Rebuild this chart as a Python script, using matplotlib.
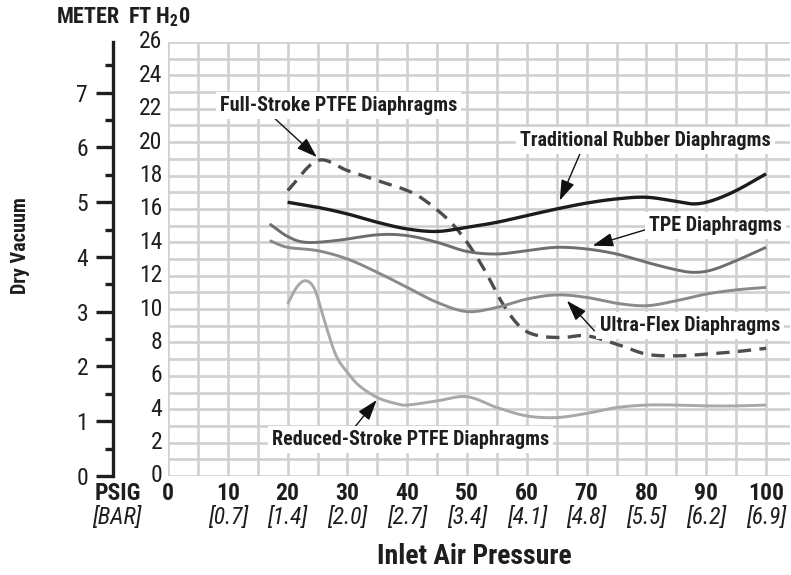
import numpy as np
import matplotlib
matplotlib.use("Agg")
import matplotlib.pyplot as plt
from matplotlib.ticker import MultipleLocator
from matplotlib.transforms import blended_transform_factory

FONT = ["Roboto Condensed", "Archivo Narrow", "PT Sans Narrow", "Liberation Sans", "DejaVu Sans"]
plt.rcParams["font.family"] = FONT

# Inlet air pressure (PSIG) and dry vacuum (ft H2O) for each diaphragm type
rubber_psig = [20, 25, 30, 35, 40, 45, 50, 55, 60, 65, 70, 75, 80, 85, 88, 91, 95, 100]
rubber_ft = [16.4, 16.1, 15.7, 15.2, 14.8, 14.65, 14.9, 15.2, 15.6, 16.0, 16.35, 16.6, 16.7, 16.45, 16.3, 16.5, 17.1, 18.1]

tpe_psig = [17, 20, 23, 28, 35, 40, 45, 50, 55, 60, 65, 70, 75, 80, 85, 88, 91, 95, 100]
tpe_ft = [15.1, 14.35, 14.0, 14.1, 14.45, 14.4, 14.0, 13.45, 13.3, 13.5, 13.7, 13.6, 13.3, 12.8, 12.35, 12.2, 12.35, 12.9, 13.7]

ultra_psig = [17, 20, 25, 30, 35, 40, 45, 50, 55, 60, 65, 70, 75, 80, 85, 90, 95, 100]
ultra_ft = [14.1, 13.7, 13.5, 13.0, 12.2, 11.3, 10.4, 9.85, 10.1, 10.6, 10.85, 10.7, 10.35, 10.2, 10.5, 10.9, 11.15, 11.3]

full_psig = [20, 25, 30, 35, 40, 43, 47, 50, 53, 56, 59, 62, 66, 70, 75, 80, 85, 90, 95, 100]
full_ft = [17.1, 18.9, 18.3, 17.7, 17.1, 16.5, 15.3, 14.0, 12.3, 10.3, 8.9, 8.4, 8.3, 8.4, 7.9, 7.3, 7.2, 7.3, 7.45, 7.65]

reduced_psig = [20, 21.5, 23, 24.5, 26, 28, 30, 32, 35, 38, 40, 45, 50, 55, 60, 65, 70, 75, 80, 85, 90, 95, 100]
reduced_ft = [10.3, 11.3, 11.7, 11.2, 9.5, 7.3, 6.2, 5.4, 4.7, 4.35, 4.25, 4.5, 4.75, 4.1, 3.6, 3.5, 3.75, 4.1, 4.25, 4.25, 4.2, 4.2, 4.25]

psig_ticks = [0, 10, 20, 30, 40, 50, 60, 70, 80, 90, 100]
bar_labels = ["", "[0.7]", "[1.4]", "[2.0]", "[2.7]", "[3.4]", "[4.1]", "[4.8]", "[5.5]", "[6.2]", "[6.9]"]
ft_ticks = list(range(0, 27, 2))
meter_ticks = [0, 1, 2, 3, 4, 5, 6, 7]
FT_PER_M = 3.28084

INK = "#1e1e1e"


def smooth(xs, ys, n=30):
    """Catmull-Rom spline through the given points."""
    x = np.asarray(xs, float)
    y = np.asarray(ys, float)
    px = np.concatenate([[2 * x[0] - x[1]], x, [2 * x[-1] - x[-2]]])
    py = np.concatenate([[2 * y[0] - y[1]], y, [2 * y[-1] - y[-2]]])
    ox, oy = [], []
    t = np.linspace(0, 1, n, endpoint=False)
    for i in range(1, len(px) - 2):
        for arr, out in ((px, ox), (py, oy)):
            p0, p1, p2, p3 = arr[i - 1], arr[i], arr[i + 1], arr[i + 2]
            out.extend(0.5 * ((2 * p1) + (-p0 + p2) * t
                              + (2 * p0 - 5 * p1 + 4 * p2 - p3) * t ** 2
                              + (-p0 + 3 * p1 - 3 * p2 + p3) * t ** 3))
    ox.append(x[-1])
    oy.append(y[-1])
    return np.array(ox), np.array(oy)


W, H = 791, 575
fig = plt.figure(figsize=(W / 100, H / 100), dpi=100)
L, R, T, B = 168, 790, 42, 476
ax = fig.add_axes([L / W, 1 - B / H, (R - L) / W, (B - T) / H])
ax.set_xlim(0, 104)
ax.set_ylim(0, 26)

ax.xaxis.set_major_locator(MultipleLocator(5))
ax.yaxis.set_major_locator(MultipleLocator(1))
ax.grid(True, color="#d0d0d0", lw=1.9, zorder=0)
ax.tick_params(length=0, labelbottom=False, labelleft=False)
for s in ax.spines.values():
    s.set_visible(False)

# FT H2O labels
for v in ft_ticks:
    ax.text(-1.0, v, str(v), ha="right", va="center", fontsize=17, color=INK)

# PSIG / BAR labels
tr = blended_transform_factory(ax.transData, fig.transFigure)
for v, b in zip(psig_ticks, bar_labels):
    fig.text(v, 1 - 494 / H, str(v), transform=tr, ha="center", va="center",
             fontsize=17, fontweight="bold", color=INK)
    if b:
        fig.text(v, 1 - 518 / H, b, transform=tr, ha="center", va="center",
                 fontsize=17, fontstyle="italic", color=INK)
fig.text(141 / W, 1 - 494 / H, "PSIG", ha="right", va="center",
         fontsize=17, fontweight="bold", color=INK)
fig.text(141 / W, 1 - 518 / H, "[BAR]", ha="right", va="center",
         fontsize=17, fontstyle="italic", color=INK)
fig.text(474 / W, 1 - 556 / H, "Inlet Air Pressure", ha="center", va="center",
         fontsize=20, fontweight="bold", color=INK)
fig.text(21 / W, 1 - 246 / H, "Dry Vacuum", ha="center", va="center", rotation=90,
         fontsize=14.5, fontweight="bold", color=INK)
fig.text(57 / W, 1 - 17 / H, "METER", ha="left", va="center",
         fontsize=16, fontweight="bold", color=INK)
fig.text(128 / W, 1 - 17 / H, r"FT H$_\mathregular{2}$0", ha="left", va="center",
         fontsize=16, fontweight="bold", color=INK)

# Meter scale
axm = fig.add_axes([113 / W, 1 - B / H, 0.0001, (B - T) / H])
axm.set_ylim(0, 26 / FT_PER_M)
axm.set_xticks([])
axm.set_yticks(meter_ticks)
axm.yaxis.set_minor_locator(MultipleLocator(0.5))
for k in ("top", "right", "bottom"):
    axm.spines[k].set_visible(False)
axm.spines["left"].set_linewidth(2.4)
axm.spines["left"].set_color(INK)
axm.tick_params(axis="y", which="major", length=12, width=2.4, pad=6,
                labelsize=17, color=INK, labelcolor=INK)
axm.tick_params(axis="y", which="minor", length=6, width=2.4, color=INK)
axm.patch.set_visible(False)

# Curves
series = [
    (full_psig, full_ft, "#4d4d4d", 2.4, (0, (4, 2.5))),
    (reduced_psig, reduced_ft, "#a8a8a8", 2.1, "-"),
    (ultra_psig, ultra_ft, "#8a8a8a", 2.1, "-"),
    (tpe_psig, tpe_ft, "#6e6e6e", 2.1, "-"),
    (rubber_psig, rubber_ft, "#1c1c1c", 2.4, "-"),
]
for xs, ys, c, lw, ls in series:
    sx, sy = smooth(xs, ys)
    ax.plot(sx, sy, color=c, lw=lw, ls=ls, solid_capstyle="butt", zorder=3)

# Annotations
box = dict(boxstyle="square,pad=0.2", fc="white", ec="none")
arrow = dict(arrowstyle="-|>,head_length=0.9,head_width=0.3", color="#111111", lw=1.0,
             mutation_scale=14, shrinkA=0, shrinkB=0)
labels = [
    ("Full-Stroke PTFE Diaphragms", (24.9, 19.1), (28.5, 22.2), (17.3, 21.6)),
    ("Traditional Rubber Diaphragms", (65.5, 16.5), (79.8, 20.1), (69.0, 19.4)),
    ("TPE Diaphragms", (71.0, 13.8), (91.5, 15.0), (81.2, 14.9)),
    ("Ultra-Flex Diaphragms", (66.7, 10.5), (87.3, 9.0), (71.3, 8.7)),
    ("Reduced-Stroke PTFE Diaphragms", (34.9, 4.55), (40.5, 2.2), (30.7, 2.7)),
]
for txt, tip, center, start in labels:
    ax.annotate("", xy=tip, xytext=start, arrowprops=arrow, zorder=5)
    ax.text(center[0], center[1], txt, ha="center", va="center", fontsize=14.5,
            fontweight="bold", color=INK, bbox=box, zorder=6)

fig.savefig("out.png", dpi=100)
